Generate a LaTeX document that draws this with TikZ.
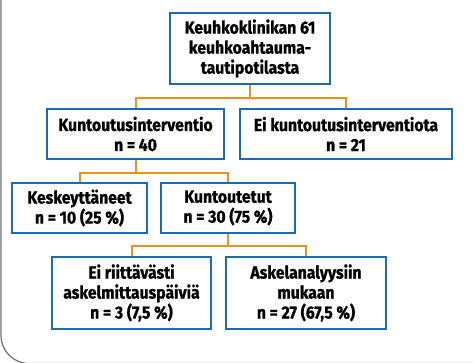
\documentclass[tikz,border=0pt]{standalone}
\usepackage{fontspec}
\setmainfont{Fira Sans}[FakeStretch=0.9, FakeBold=1]
\usetikzlibrary{positioning,calc}
\definecolor{boxblue}{HTML}{1B6DB3}
\definecolor{linkorange}{HTML}{F0901E}
\definecolor{framegray}{HTML}{6E6E6E}
\tikzset{every picture/.style={line width=0.75pt}}

\begin{document}
\begin{tikzpicture}[x=1pt, y=-1pt,
    box/.style={draw=boxblue, line width=2.4pt, fill=white, align=center,
        inner sep=0pt, minimum height=49.6pt,
        font=\fontsize{17.5}{20}\selectfont\bfseries},
    link/.style={draw=linkorange, line width=2pt}]
    % kehys ja rajaus
    \useasboundingbox (0,0) rectangle (473,363);
    \draw[framegray, line width=1.2pt, rounded corners=28pt] (1,-5) -- (1,363.5) -- (480,363.5);

    % laatikot
    \node[box, minimum width=159.6pt, minimum height=70.6pt] (potilaat) at (250,48.5)
        {Keuhkoklinikan 61\\keuhkoahtauma-\\tautipotilasta};
    \node[box, minimum width=176.6pt] (interventio) at (135.5,134) {Kuntoutusinterventio\\n = 40};
    \node[box, minimum width=211.6pt] (eiinterventio) at (346,134) {Ei kuntoutusinterventiota\\n = 21};
    \node[box, minimum width=134.6pt] (keskeyttaneet) at (79.5,208) {Keskeyttäneet\\n = 10 (25 \%)};
    \node[box, minimum width=133.6pt] (kuntoutetut) at (228,208) {Kuntoutetut\\n = 30 (75 \%)};
    \node[box, minimum width=158.6pt, minimum height=71.6pt] (eiriita) at (131.5,293)
        {Ei riittävästi\\askelmittauspäiviä\\n = 3 (7,5 \%)};
    \node[box, minimum width=159.6pt, minimum height=71.6pt] (mukaan) at (306,293)
        {Askelanalyysiin\\mukaan\\n = 27 (67,5 \%)};

    % yhdysviivat
    \draw[link] (potilaat.south) -- ++(0,13) -| (interventio.north);
    \draw[link] (potilaat.south) -- ++(0,13) -| (eiinterventio.north);
    \draw[link] (interventio.south) -- ++(0,13) -| (keskeyttaneet.north);
    \draw[link] (interventio.south) -- ++(0,13) -| (kuntoutetut.north);
    \draw[link] (kuntoutetut.south) -- ++(0,12) -| (eiriita.north);
    \draw[link] (kuntoutetut.south) -- ++(0,12) -| (mukaan.north);
\end{tikzpicture}
\end{document}
